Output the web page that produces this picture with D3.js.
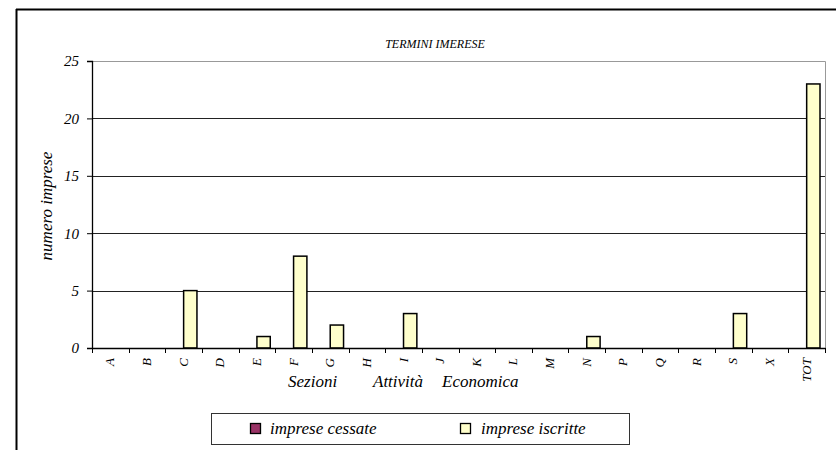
<!DOCTYPE html>
<html><head><meta charset="utf-8">
<script src="https://cdn.jsdelivr.net/npm/d3@7"></script>
</head>
<body style="margin:0;background:#fff">
<svg id="chart" width="836" height="450"></svg>
<script>
const title = "TERMINI IMERESE";
const categories = ["A","B","C","D","E","F","G","H","I","J","K","L","M","N","P","Q","R","S","X","TOT"];
const seriesNames = ["imprese cessate","imprese iscritte"];
const cessate  = [0,0,0,0,0,0,0,0,0,0,0,0,0,0,0,0,0,0,0,0];
const iscritte = [0,0,5,0,1,8,2,0,3,0,0,0,0,1,0,0,0,3,0,23];
const yTicks = [0,5,10,15,20,25];
const colors = ["#993366","#FFFFCC"];
const yTitle = "numero imprese";
const xTitleWords = ["Sezioni","Attività","Economica"];

const FONT = "Liberation Serif";
const svg = d3.select("#chart");
const m = {left:92, right:825, top:61, bottom:348};

function txt(sel){ return sel.attr("font-family",FONT).attr("font-style","italic").attr("fill","#000"); }

// outer frame
svg.append("line").attr("x1",16.5).attr("x2",16.5).attr("y1",9).attr("y2",450).attr("stroke","#000").attr("stroke-width",2);
svg.append("line").attr("x1",16).attr("x2",836).attr("y1",9.5).attr("y2",9.5).attr("stroke","#000").attr("stroke-width",2);

const x = d3.scaleBand().domain(categories).range([m.left,m.right]).paddingInner(0).paddingOuter(0);
const x1 = d3.scaleBand().domain([0,1]).range([0,x.bandwidth()]).paddingInner(0).paddingOuter(0.375);
const y = d3.scaleLinear().domain([0,25]).range([m.bottom,m.top]);

// plot border (gray top/right)
svg.append("path").attr("d",`M${m.left},${m.top+0.5}H${m.right+0.5}V${m.bottom}`).attr("fill","none").attr("stroke","#999").attr("stroke-width",1);

// gridlines
svg.append("g").selectAll("line").data(yTicks.filter(t=>t>0&&t<25)).join("line")
  .attr("x1",m.left).attr("x2",m.right).attr("y1",d=>Math.round(y(d))+0.5).attr("y2",d=>Math.round(y(d))+0.5)
  .attr("stroke","#222").attr("stroke-width",1);

// bars
const data = categories.map((c,i)=>({c, v:[cessate[i],iscritte[i]]}));
const g = svg.append("g");
data.forEach(d=>{
  d.v.forEach((v,si)=>{
    if(v<=0) return;
    g.append("rect")
      .attr("x",x(d.c)+x1(si)).attr("width",x1.bandwidth())
      .attr("y",y(v)).attr("height",y(0)-y(v))
      .attr("fill",colors[si]).attr("stroke","#000").attr("stroke-width",1.5);
  });
});

// y axis
const yAxis = d3.axisLeft(y).tickValues(yTicks).tickSize(5).tickPadding(8);
const ya = svg.append("g").attr("transform",`translate(${m.left},0)`).call(yAxis);
ya.attr("font-family",FONT).attr("font-size",14);
ya.select(".domain").attr("stroke","#000").attr("stroke-width",1.3);
ya.selectAll(".tick line").attr("stroke","#000");
txt(ya.selectAll("text")).attr("font-size",15);

// x axis (domain line only; labels drawn manually)
const xAxis = d3.axisBottom(x).tickSize(0).tickFormat("");
const xa = svg.append("g").attr("transform",`translate(0,${m.bottom})`).call(xAxis);
xa.select(".domain").attr("stroke","#000").attr("stroke-width",1.3);
xa.selectAll(".tick text").remove();
txt(svg.append("g").selectAll("text").data(categories).join("text"))
  .attr("font-size",13).attr("text-anchor","end")
  .attr("transform",d=>`translate(${x(d)+x.bandwidth()/2+4},358) rotate(-90)`)
  .text(d=>d);
// boundary ticks
const bounds = categories.map(c=>x(c)).concat([m.right]);
svg.append("g").selectAll("line").data(bounds).join("line")
  .attr("x1",d=>Math.round(d)+0.5).attr("x2",d=>Math.round(d)+0.5).attr("y1",m.bottom).attr("y2",m.bottom+5)
  .attr("stroke","#000");

// title
txt(svg.append("text")).attr("x",435).attr("y",48).attr("text-anchor","middle").attr("font-size",12).text(title);

// y title
txt(svg.append("text")).attr("transform","translate(52,206) rotate(-90)").attr("text-anchor","middle").attr("font-size",17).text(yTitle);

// x title words
const xtPos = [288,373,442];
txt(svg.append("g").selectAll("text").data(xTitleWords).join("text"))
  .attr("x",(d,i)=>xtPos[i]).attr("y",387).attr("font-size",17).text(d=>d);

// legend
const lg = svg.append("g");
lg.append("rect").attr("x",211.5).attr("y",413.5).attr("width",418).attr("height",31).attr("fill","#fff").attr("stroke","#333").attr("stroke-width",1);
const lx = [250,460], tx=[270,481];
seriesNames.forEach((n,i)=>{
  lg.append("rect").attr("x",lx[i]+0.5).attr("y",423.5).attr("width",10).attr("height",10).attr("fill",colors[i]).attr("stroke","#000").attr("stroke-width",1.3);
  txt(lg.append("text")).attr("x",tx[i]).attr("y",434).attr("font-size",17).text(n);
});
</script>
</body></html>
